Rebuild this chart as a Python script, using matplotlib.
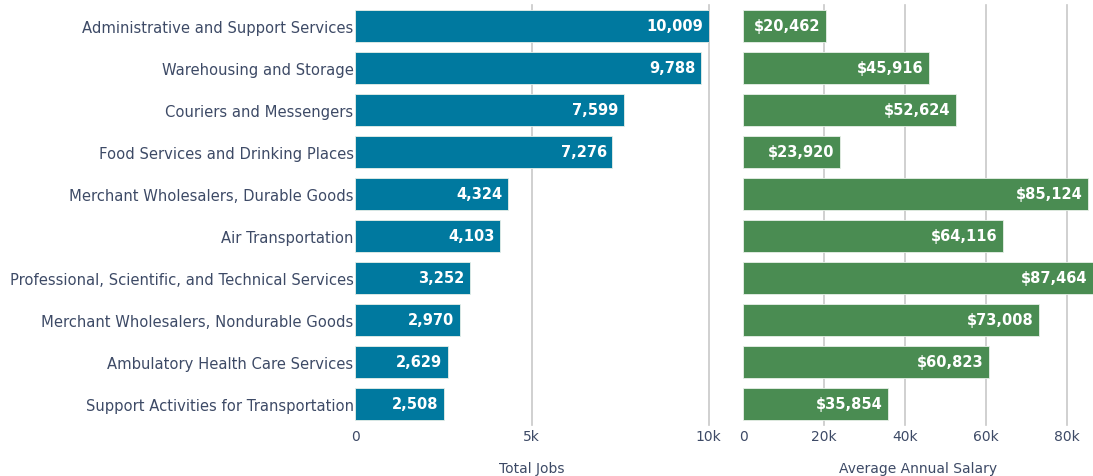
import matplotlib
matplotlib.use("Agg")
import matplotlib.pyplot as plt

categories = [
    "Administrative and Support Services",
    "Warehousing and Storage",
    "Couriers and Messengers",
    "Food Services and Drinking Places",
    "Merchant Wholesalers, Durable Goods",
    "Air Transportation",
    "Professional, Scientific, and Technical Services",
    "Merchant Wholesalers, Nondurable Goods",
    "Ambulatory Health Care Services",
    "Support Activities for Transportation",
]
total_jobs = [10009, 9788, 7599, 7276, 4324, 4103, 3252, 2970, 2629, 2508]
avg_salary = [20462, 45916, 52624, 23920, 85124, 64116, 87464, 73008, 60823, 35854]
jobs_ticks = [0, 5000, 10000]
jobs_ticklabels = ["0", "5k", "10k"]
salary_ticks = [0, 20000, 40000, 60000, 80000]
salary_ticklabels = ["0", "20k", "40k", "60k", "80k"]

W, H = 1093, 477
fig = plt.figure(figsize=(W / 100, H / 100), dpi=100)

text_col = "#3d4a66"
grid_col = "#c8c8c8"
blue = "#00799f"
green = "#4a8c52"

def ax_rect(x0, x1, y0, y1):
    return [x0 / W, 1 - y1 / H, (x1 - x0) / W, (y1 - y0) / H]

ax1 = fig.add_axes(ax_rect(355, 709, 6, 426))
ax2 = fig.add_axes(ax_rect(743, 1093, 6, 426))

ypos = list(range(len(categories)))

for ax, vals, ticks, tlabels, xmax, col, title, fmt in [
    (ax1, total_jobs, jobs_ticks, jobs_ticklabels, 10009, blue, "Total Jobs", "{:,}"),
    (ax2, avg_salary, salary_ticks, salary_ticklabels, 86420, green, "Average Annual Salary", "${:,}"),
]:
    ax.set_xlim(0, xmax)
    ax.set_ylim(len(categories) - 0.5, -0.5)
    ax.set_xticks(ticks)
    ax.set_xticklabels(tlabels)
    for t in ticks:
        if t > 0:
            ax.axvline(t, color=grid_col, lw=1.2, zorder=0, clip_on=False)
    ax.barh(ypos, vals, height=0.74, color=col, edgecolor="#e8efe8", linewidth=0.6, zorder=2)
    for y, v in zip(ypos, vals):
        vv = min(v, xmax)
        ax.annotate(fmt.format(v), xy=(vv, y), xytext=(-4, 0), textcoords="offset points",
                    ha="right", va="center", color="white", fontsize=10.5,
                    fontweight="bold", zorder=3)
    for s in ax.spines.values():
        s.set_visible(False)
    ax.tick_params(axis="x", length=0, pad=3, labelsize=10, labelcolor=text_col)
    ax.tick_params(axis="y", length=0)
    ax.set_xlabel(title, fontsize=10, color=text_col, labelpad=13)

ax1.set_yticks(ypos)
ax1.set_yticklabels(categories, fontsize=10.6, color=text_col)
ax1.tick_params(axis="y", pad=1)
ax2.set_yticks([])

fig.savefig("out.png", dpi=100)
